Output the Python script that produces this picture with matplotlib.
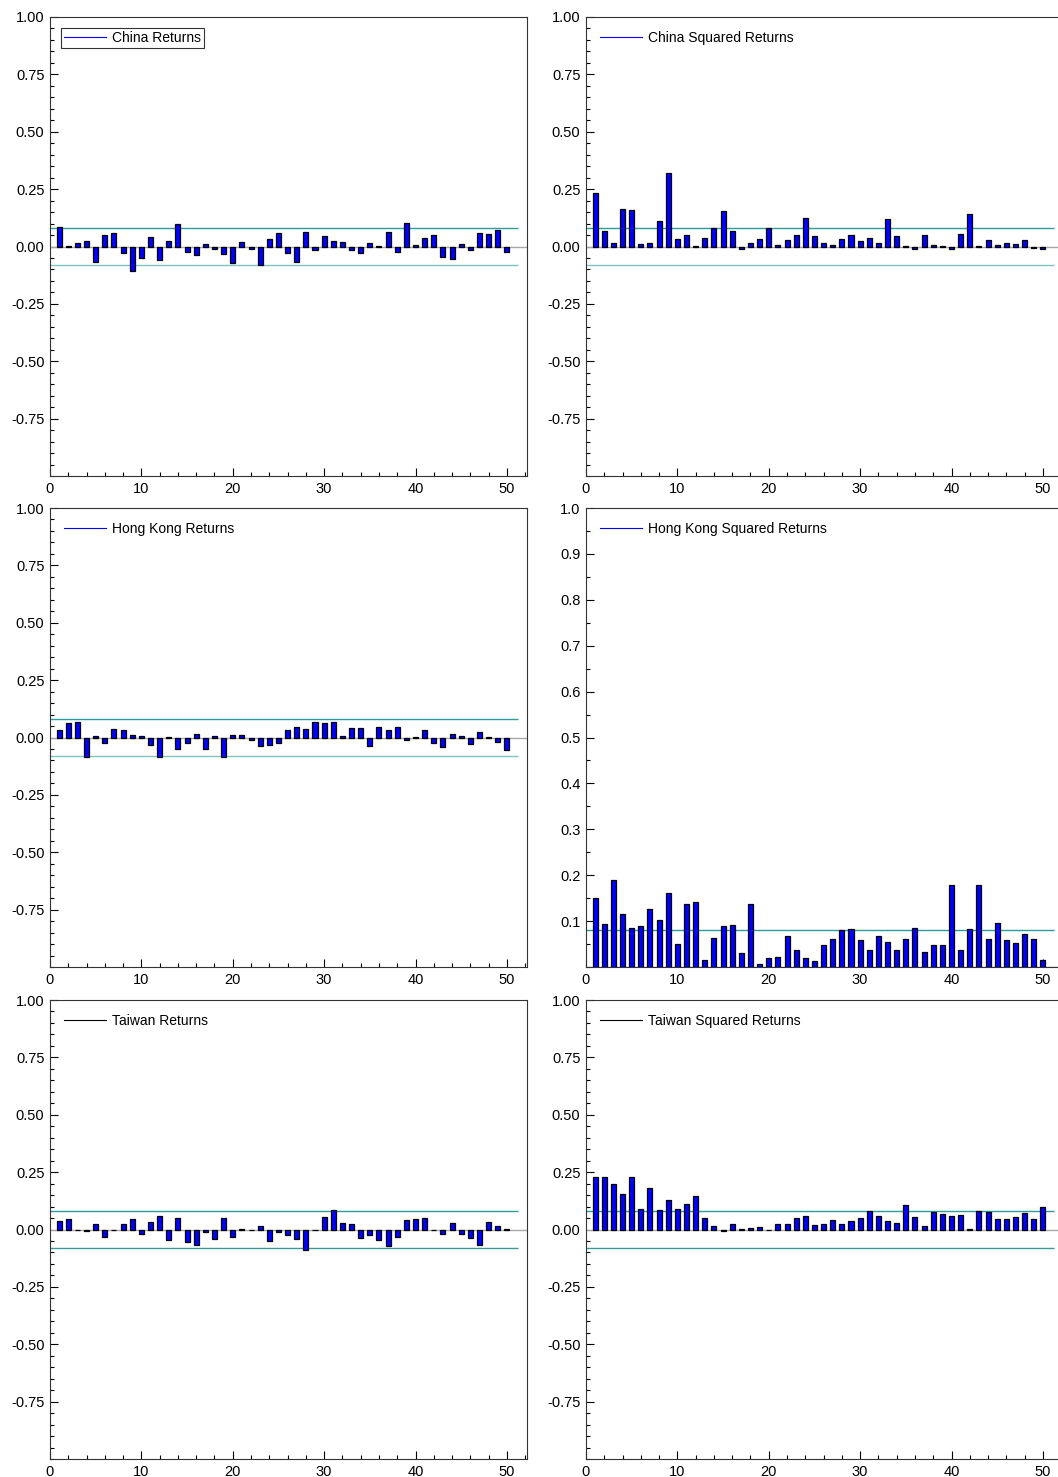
import matplotlib
matplotlib.use("Agg")
import matplotlib.pyplot as plt
from matplotlib.ticker import MultipleLocator, FixedLocator
import numpy as np

plt.rcParams['font.family'] = ['Liberation Sans', 'DejaVu Sans']

lags = list(range(1, 51))

china_ret = [0.084, 0.002, 0.017, 0.026, -0.068, 0.051, 0.057, -0.028, -0.106, -0.051,
             0.041, -0.057, 0.022, 0.096, -0.023, -0.036, 0.010, -0.012, -0.032, -0.070,
             0.020, -0.009, -0.082, 0.031, 0.058, -0.028, -0.067, 0.064, -0.015, 0.047,
             0.025, 0.019, -0.015, -0.029, 0.016, 0.004, 0.063, -0.025, 0.103, 0.007,
             0.038, 0.051, -0.047, -0.054, 0.012, -0.016, 0.060, 0.054, 0.073, -0.025]

china_sq = [0.233, 0.067, 0.016, 0.164, 0.159, 0.012, 0.015, 0.111, 0.322, 0.031,
            0.049, 0.004, 0.036, 0.079, 0.154, 0.067, -0.013, 0.016, 0.032, 0.079,
            0.007, 0.028, 0.051, 0.124, 0.045, 0.015, 0.006, 0.032, 0.049, 0.023,
            0.038, 0.015, 0.118, 0.047, 0.001, -0.012, 0.049, 0.007, 0.004, -0.010,
            0.054, 0.143, 0.004, 0.028, 0.006, 0.016, 0.010, 0.029, -0.007, -0.010]

hk_ret = [0.032, 0.064, 0.067, -0.084, 0.007, -0.022, 0.036, 0.033, 0.010, 0.007,
          -0.031, -0.087, 0.003, -0.051, -0.026, 0.015, -0.049, 0.006, -0.086, 0.013,
          0.010, -0.009, -0.038, -0.031, -0.022, 0.033, 0.047, 0.035, 0.068, 0.063,
          0.067, 0.006, 0.041, 0.041, -0.038, 0.047, 0.031, 0.044, -0.010, 0.001,
          0.031, -0.025, -0.041, 0.015, 0.006, -0.029, 0.026, 0.002, -0.019, -0.055]

hk_sq = [0.150, 0.094, 0.190, 0.115, 0.084, 0.090, 0.126, 0.102, 0.161, 0.050,
         0.137, 0.142, 0.015, 0.063, 0.089, 0.091, 0.031, 0.138, 0.007, 0.019,
         0.021, 0.068, 0.038, 0.020, 0.012, 0.049, 0.060, 0.081, 0.082, 0.058,
         0.038, 0.067, 0.054, 0.038, 0.062, 0.086, 0.032, 0.047, 0.049, 0.179,
         0.036, 0.082, 0.179, 0.062, 0.095, 0.058, 0.052, 0.071, 0.062, 0.015]

tw_ret = [0.039, 0.044, -0.002, -0.006, 0.026, -0.031, -0.002, 0.025, 0.047, -0.019,
          0.031, 0.061, -0.047, 0.051, -0.055, -0.067, -0.010, -0.041, 0.048, -0.032,
          0.002, -0.002, 0.015, -0.049, -0.013, -0.023, -0.041, -0.090, -0.002, 0.055,
          0.086, 0.028, 0.025, -0.038, -0.023, -0.047, -0.071, -0.032, 0.042, 0.047,
          0.048, -0.002, -0.020, 0.028, -0.019, -0.036, -0.066, 0.033, 0.016, 0.003]

tw_sq = [0.227, 0.227, 0.199, 0.153, 0.229, 0.089, 0.182, 0.083, 0.130, 0.090,
         0.111, 0.148, 0.048, 0.017, -0.007, 0.022, 0.003, 0.007, 0.013, -0.002,
         0.026, 0.023, 0.052, 0.061, 0.019, 0.026, 0.042, 0.025, 0.035, 0.048,
         0.080, 0.058, 0.035, 0.028, 0.105, 0.054, 0.017, 0.077, 0.066, 0.057,
         0.063, 0.002, 0.079, 0.076, 0.044, 0.044, 0.054, 0.071, 0.047, 0.096]

band = 0.08

panels = [
    ("China Returns", china_ret, 'blue', True, 'ret'),
    ("China Squared Returns", china_sq, 'blue', False, 'ret'),
    ("Hong Kong Returns", hk_ret, 'blue', False, 'ret'),
    ("Hong Kong Squared Returns", hk_sq, 'blue', False, 'pos'),
    ("Taiwan Returns", tw_ret, 'black', False, 'ret'),
    ("Taiwan Squared Returns", tw_sq, 'black', False, 'ret'),
]

W, H = 1058, 1477
fig = plt.figure(figsize=(W / 100, H / 100), dpi=100)

lefts = [50, 586]
widths = [477, 477]
tops = [17, 508, 1000]
ph = 459

for i, (name, vals, legcol, framed, kind) in enumerate(panels):
    r, c = divmod(i, 2)
    ax = fig.add_axes([lefts[c] / W, 1 - (tops[r] + ph) / H, widths[c] / W, ph / H])
    ax.bar(lags, vals, width=0.55, color='#0000ff', edgecolor='black', linewidth=0.9, zorder=3)
    ax.axhline(0, color='#a8a8a8', lw=1.0, zorder=2)
    ax.hlines(band, 0, 51.2, color='#2a9d9d', lw=1.0, zorder=2)
    if kind == 'ret':
        ax.hlines(-band, 0, 51.2, color='#7cc4c4' if r < 2 else '#3a9a9a', lw=1.0, zorder=2)
        ax.set_ylim(-1.0, 1.0)
        ax.yaxis.set_major_locator(FixedLocator([-0.75, -0.5, -0.25, 0, 0.25, 0.5, 0.75, 1.0]))
        ax.yaxis.set_major_formatter(matplotlib.ticker.FormatStrFormatter('%.2f'))
    else:
        ax.set_ylim(0, 1.0)
        ax.yaxis.set_major_locator(FixedLocator([0.1 * k for k in range(1, 11)]))
        ax.yaxis.set_major_formatter(matplotlib.ticker.FormatStrFormatter('%.1f'))
    ax.yaxis.set_minor_locator(MultipleLocator(0.05))
    ax.set_xlim(0, 52.2)
    ax.xaxis.set_major_locator(MultipleLocator(10))
    ax.xaxis.set_minor_locator(MultipleLocator(2))
    ax.tick_params(axis='both', which='major', direction='in', length=6, width=0.8,
                   labelsize=10.5, top=False, right=False, pad=4)
    ax.tick_params(axis='both', which='minor', direction='in', length=3, width=0.8,
                   top=False, right=False)
    for s in ax.spines.values():
        s.set_linewidth(0.8)
        s.set_color('#333333')
    ax.plot([], [], color=legcol, lw=0.8, label=name)
    leg = ax.legend(loc='upper left', frameon=framed, fontsize=10, handlelength=3.0,
                    handletextpad=0.5, borderpad=0.2, borderaxespad=0.8, fancybox=False)
    if framed:
        leg.get_frame().set_edgecolor('black')
        leg.get_frame().set_linewidth(0.8)

fig.savefig("out.png", dpi=100)
